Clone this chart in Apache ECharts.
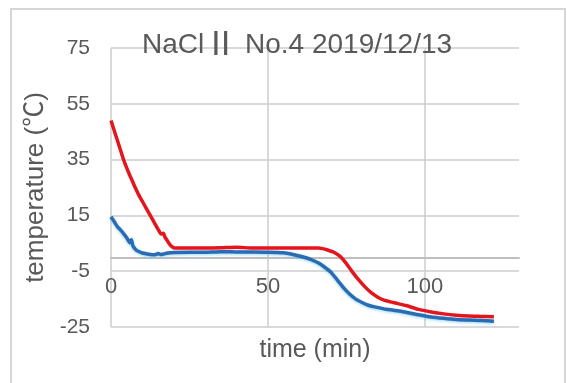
<!DOCTYPE html>
<html>
<head>
<meta charset="utf-8">
<script src="https://cdn.jsdelivr.net/npm/echarts@6/dist/echarts.min.js"></script>
<style>
html, body { margin: 0; padding: 0; background: #ffffff; }
#chart { width: 567px; height: 383px; }
</style>
</head>
<body>
<div id="chart"></div>
<script>
// ---- data ----
var titleMain = 'NaCl';
var titleNumeral = 'Ⅱ';
var titleRest = ' No.4 2019/12/13';
var xAxisTitle = 'time (min)';
var yAxisTitle = 'temperature (℃)';

var yTicks = [-25, -5, 15, 35, 55, 75];
var xTicks = [0, 50, 100];

// red series: time (min)
var redTime = [0, 1, 2, 3, 4, 5, 6, 7, 8, 9, 10, 11, 12, 13, 14, 15, 16, 16.7, 17.2, 18, 19, 20, 21,
  30, 35, 40, 45, 55, 66, 67.5, 69, 71, 73, 75, 77, 79, 81, 83, 85, 87, 89, 91, 94, 98, 102, 106, 110, 114, 118, 122];
// red series: temperature (°C)
var redTemp = [49, 45.5, 42, 38.5, 35, 32, 29.3, 26.8, 24.3, 22, 20, 18, 16, 14, 12, 10, 8.3, 8.6, 7.2, 5.8, 4.2, 3.4, 3.3,
  3.3, 3.4, 3.6, 3.3, 3.3, 3.3, 3.1, 2.6, 1.8, 0.3, -2.3, -5.4, -8.2, -10.7, -12.8, -14.3, -15.4, -16, -16.5, -17.3, -18.7, -19.6, -20.3, -20.8, -21.1, -21.2, -21.3];

// blue series: time (min)
var blueTime = [0, 1, 2, 3, 4, 5, 6, 6.5, 7, 8, 9, 10, 12, 14, 15, 16, 18, 20, 30, 35, 40, 50, 55, 58, 61, 64, 66, 68, 70, 72, 74, 76, 78, 80, 82, 84,
  87, 90, 94, 98, 102, 106, 110, 114, 118, 122];
// blue series: temperature (°C)
var blueTemp = [14.5, 12.8, 11, 9.8, 8.5, 7, 5.2, 6.3, 4, 2.6, 2, 1.5, 1.1, 0.9, 1.3, 1.0, 1.5, 1.7, 1.8, 2.0, 1.9, 1.8, 1.6, 1.0, 0.2, -0.9, -2, -3.5, -5.3, -8, -10.8, -13.2, -15, -16.2, -17.2, -17.8,
  -18.5, -19, -19.7, -20.6, -21.4, -21.9, -22.3, -22.5, -22.7, -22.9];

function pairs(xs, ys) {
  var out = [];
  for (var i = 0; i < xs.length; i++) out.push([xs[i], ys[i]]);
  return out;
}

var FONT = "'Liberation Sans', Arial, 'Noto Sans CJK JP', sans-serif";
var CJK = "'Noto Sans CJK JP', sans-serif";
var TEXT = '#595959';

var chart = echarts.init(document.getElementById('chart'), null, { renderer: 'canvas' });
chart.setOption({
  animation: false,
  backgroundColor: '#ffffff',
  title: {
    text: '{a|' + titleMain + '}{b|' + titleNumeral + '}{a|' + titleRest + '}',
    left: 137,
    top: 25,
    textStyle: {
      fontFamily: FONT, fontSize: 28, fontWeight: 'normal', color: TEXT, lineHeight: 30,
      rich: {
        a: { fontFamily: FONT, fontSize: 28, color: TEXT, lineHeight: 30 },
        b: { fontFamily: CJK, fontSize: 33, color: TEXT, lineHeight: 30, padding: [0, 0, 5, 0] }
      }
    }
  },
  graphic: [{
    type: 'rect',
    silent: true,
    z: -10,
    shape: { x: 11, y: 9, width: 554, height: 400 },
    style: { fill: 'none', stroke: '#d6d6d6', lineWidth: 2 }
  }],
  grid: { left: 111, right: 48, top: 48, bottom: 56, outerBoundsMode: 'none', containLabel: false },
  xAxis: {
    type: 'value',
    min: 0,
    max: 130,
    interval: 50,
    name: xAxisTitle,
    nameLocation: 'middle',
    nameGap: 11,
    nameTextStyle: { fontFamily: FONT, fontSize: 25, color: TEXT },
    axisLine: { show: true, onZero: true, lineStyle: { color: '#bfbfbf', width: 2 } },
    axisTick: { show: false },
    axisLabel: {
      fontFamily: FONT, fontSize: 22, color: TEXT, margin: -51,
      showMaxLabel: false,
      formatter: function (v) { return xTicks.indexOf(v) >= 0 ? String(v) : ''; }
    },
    splitLine: { show: true, showMinLine: true, showMaxLine: false, lineStyle: { color: '#cccccc', width: 1.5 } }
  },
  yAxis: {
    type: 'value',
    min: yTicks[0],
    max: yTicks[yTicks.length - 1],
    interval: 20,
    name: yAxisTitle,
    nameLocation: 'middle',
    nameRotate: 90,
    nameGap: 62,
    nameTextStyle: { fontFamily: FONT, fontSize: 26, color: TEXT },
    axisLine: { show: false },
    axisTick: { show: false },
    axisLabel: { fontFamily: FONT, fontSize: 21, color: TEXT, margin: 21 },
    splitLine: { show: true, lineStyle: { color: '#d9d9d9', width: 2 } }
  },
  series: [
    {
      name: 'red',
      type: 'line',
      data: pairs(redTime, redTemp),
      showSymbol: false,
      smooth: 0.2,
      lineStyle: { color: '#e3151d', width: 3.5 },
      itemStyle: { color: '#e3151d' },
      z: 3
    },
    {
      name: 'blue',
      type: 'line',
      data: pairs(blueTime, blueTemp),
      showSymbol: false,
      smooth: 0.2,
      lineStyle: { color: '#2a6cb3', width: 3.5, shadowColor: 'rgba(90,190,240,0.6)', shadowBlur: 3, shadowOffsetY: 1 },
      itemStyle: { color: '#2a6cb3' },
      z: 2
    }
  ]
});
</script>
</body>
</html>
